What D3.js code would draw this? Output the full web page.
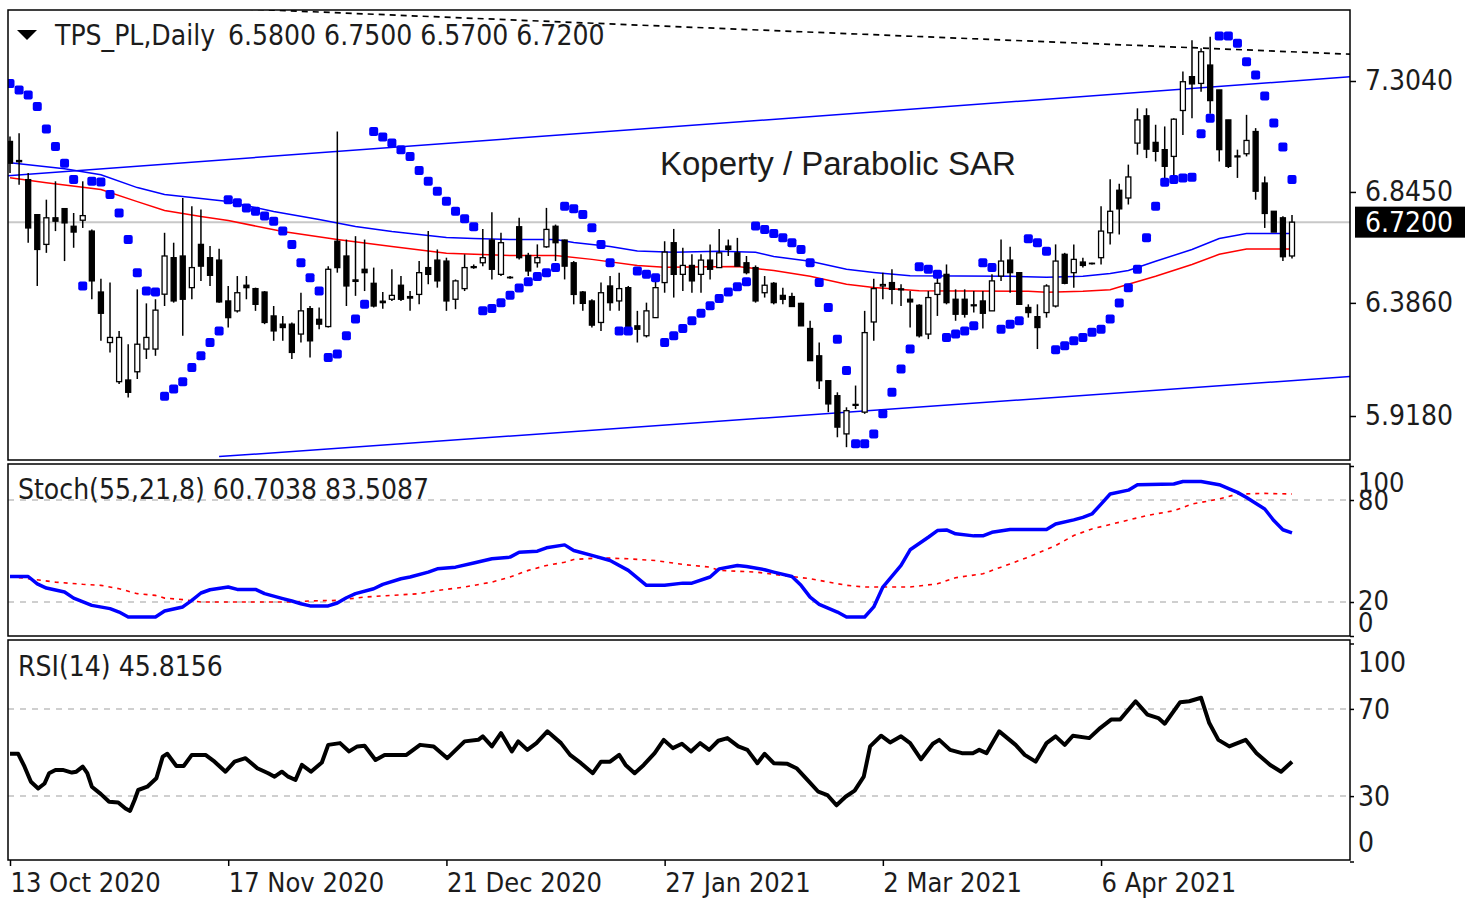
<!DOCTYPE html>
<html>
<head>
<meta charset="utf-8">
<script src="https://cdn.jsdelivr.net/npm/d3@7"></script>
<style>
  body { margin: 0; background: #fff; }
  svg text { font-family: "DejaVu Sans Condensed", "Liberation Sans", sans-serif; fill: #1c1c1c; }
</style>
</head>
<body>
<div id="chart"></div>
<script>
// TPS_PL daily candles, index 0 = 13 Oct 2020
const opens = [7.054,6.975,6.896,6.751,6.628,6.738,6.776,6.703,6.728,6.683, 6.431,6.222,6.060,6.067,6.101,6.195,6.195,6.422,6.573,6.580,
  6.449,6.628,6.573,6.563,6.394,6.353,6.459,6.445,6.431,6.332, 6.298,6.298,6.257,6.362,6.318,6.288,6.641,6.580,6.481,6.525,
  6.467,6.393,6.401,6.459,6.412,6.421,6.532,6.563,6.559,6.401, 6.445,6.536,6.552,6.646,6.504,6.492,6.701,6.582,6.552,6.618,
  6.703,6.646,6.552,6.431,6.394,6.305,6.456,6.394,6.449,6.291, 6.250,6.325,6.470,6.635,6.504,6.541,6.504,6.563,6.532,6.621,
  6.593,6.552,6.532,6.428,6.467,6.417,6.412,6.384,6.280,6.167, 6.064,6.002,5.844,5.962,5.934,6.307,6.456,6.470,6.444,6.401,
  6.376,6.257,6.421,6.504,6.401,6.401,6.374,6.394,6.353,6.497, 6.563,6.511,6.367,6.329,6.346,6.373,6.587,6.511,6.555,6.550,
  6.573,6.676,6.852,6.820,7.047,7.160,7.050,7.020,6.992,7.182, 7.322,7.294,7.370,7.267,7.143,6.994,7.003,7.095,6.882,6.765,
  6.738,6.580];
const highs = [7.074,7.088,6.923,6.751,6.813,6.889,6.776,6.758,6.889,6.690, 6.486,6.470,6.270,6.215,6.442,6.384,6.401,6.676,6.635,6.820,
  6.786,6.772,6.621,6.610,6.456,6.497,6.497,6.449,6.435,6.373, 6.332,6.305,6.428,6.373,6.367,6.538,7.095,6.648,6.662,6.648,
  6.532,6.431,6.525,6.497,6.435,6.559,6.683,6.607,6.573,6.483, 6.587,6.545,6.692,6.761,6.676,6.497,6.738,6.593,6.628,6.779,
  6.710,6.648,6.559,6.435,6.401,6.470,6.497,6.511,6.456,6.353, 6.387,6.477,6.641,6.692,6.614,6.587,6.587,6.628,6.692,6.648,
  6.655,6.580,6.541,6.497,6.472,6.449,6.428,6.387,6.312,6.222, 6.064,6.016,5.954,6.044,6.353,6.486,6.511,6.525,6.463,6.435,
  6.380,6.435,6.497,6.545,6.442,6.442,6.435,6.435,6.504,6.648, 6.618,6.514,6.380,6.380,6.463,6.628,6.593,6.628,6.573,6.552,
  6.786,6.898,6.879,6.958,7.191,7.191,7.123,7.116,7.150,7.343, 7.473,7.439,7.487,7.267,7.143,7.020,7.164,7.109,6.909,6.765,
  6.744,6.750];
const lows = [6.923,6.875,6.635,6.456,6.593,6.683,6.559,6.614,6.696,6.401, 6.229,6.181,6.050,5.995,6.071,6.154,6.167,6.373,6.387,6.250,
  6.401,6.477,6.456,6.387,6.284,6.346,6.401,6.353,6.298,6.229, 6.229,6.154,6.222,6.160,6.277,6.284,6.511,6.373,6.415,6.435,
  6.367,6.362,6.394,6.394,6.353,6.380,6.463,6.449,6.353,6.360, 6.435,6.527,6.538,6.483,6.497,6.486,6.566,6.497,6.532,6.614,
  6.559,6.483,6.380,6.353,6.284,6.270,6.353,6.353,6.284,6.222, 6.243,6.325,6.428,6.408,6.435,6.428,6.428,6.483,6.532,6.580,
  6.538,6.504,6.387,6.408,6.380,6.380,6.371,6.291,6.147,6.030, 5.934,5.830,5.789,5.947,5.927,6.229,6.401,6.380,6.373,6.284,
  6.243,6.236,6.332,6.380,6.312,6.325,6.346,6.280,6.353,6.477, 6.428,6.380,6.325,6.195,6.325,6.367,6.463,6.449,6.532,6.545,
  6.545,6.628,6.669,6.793,6.999,6.985,6.971,6.896,6.903,7.081, 7.150,7.260,7.168,6.971,6.944,6.903,6.992,6.813,6.696,6.679,
  6.559,6.570];
const closes = [6.964,6.970,6.696,6.607,6.738,6.724,6.717,6.679,6.747,6.477, 6.343,6.243,6.243,6.016,6.215,6.243,6.356,6.580,6.394,6.401,
  6.532,6.538,6.500,6.390,6.325,6.428,6.449,6.380,6.305,6.270, 6.284,6.181,6.353,6.229,6.298,6.525,6.532,6.456,6.475,6.511,
  6.373,6.387,6.417,6.401,6.406,6.511,6.504,6.477,6.394,6.477, 6.532,6.532,6.573,6.525,6.635,6.490,6.573,6.518,6.573,6.690,
  6.635,6.538,6.421,6.384,6.294,6.428,6.387,6.445,6.284,6.277, 6.353,6.449,6.596,6.504,6.541,6.477,6.563,6.525,6.593,6.607,
  6.538,6.511,6.394,6.459,6.387,6.401,6.371,6.291,6.147,6.064, 5.968,5.872,5.940,5.966,6.263,6.445,6.462,6.442,6.440,6.390,
  6.250,6.408,6.467,6.387,6.339,6.339,6.378,6.343,6.477,6.559, 6.511,6.380,6.346,6.284,6.456,6.559,6.467,6.566,6.541,6.548,
  6.683,6.765,6.775,6.907,7.143,7.022,7.013,6.951,7.146,7.301, 7.292,7.425,7.223,7.020,6.951,6.990,7.058,6.848,6.756,6.679,
  6.577,6.720];

// Parabolic SAR, one value per bar
const sar = [7.294,7.267,7.246,7.198,7.105,7.033,6.964,6.896,6.456,6.889, 6.886,6.834,6.758,6.648,6.511,6.435,6.431,6.000,6.030,6.060,
  6.119,6.167,6.222,6.270,6.813,6.800,6.779,6.765,6.745,6.724, 6.683,6.628,6.552,6.490,6.435,6.160,6.174,6.250,6.319,6.380,
  7.095,7.072,7.047,7.020,6.992,6.934,6.889,6.848,6.807,6.765, 6.734,6.701,6.353,6.363,6.387,6.418,6.448,6.473,6.495,6.511,
  6.532,6.786,6.775,6.752,6.697,6.628,6.552,6.270,6.270,6.518, 6.504,6.490,6.222,6.250,6.280,6.312,6.343,6.374,6.404,6.431,
  6.453,6.473,6.704,6.690,6.673,6.655,6.635,6.607,6.552,6.470, 6.367,6.236,6.106,5.803,5.803,5.844,5.927,6.016,6.112,6.195,
  6.536,6.525,6.504,6.243,6.257,6.270,6.291,6.552,6.532,6.277, 6.298,6.312,6.651,6.635,6.600,6.192,6.209,6.229,6.243,6.264,
  6.277,6.319,6.385,6.449,6.525,6.655,6.786,6.885,6.896,6.903, 6.906,7.086,7.150,7.490,7.490,7.460,7.384,7.329,7.242,7.130,
  7.031,6.896];

// moving averages [bar, price]
const maBlue = [[0,6.966],[6,6.941],[10,6.916],[14,6.863],[17,6.834],[24,6.805],[29,6.764],[34,6.731],[38,6.702],[42,6.681],
  [45,6.669],[48,6.657],[51,6.652],[55,6.648],[60,6.648],[62,6.636],[66,6.619],[69,6.601],[73,6.595],[78,6.600],[82,6.595],
  [84,6.578],[88,6.558],[92,6.525],[95,6.512],[99,6.498],[110,6.496],[114,6.492],[118,6.496],[121,6.508],[123,6.520],
  [126,6.558],[130,6.607],[133,6.652],[136,6.673],[141,6.673]];
const maRed = [[0,6.904],[4,6.883],[10,6.855],[14,6.805],[17,6.768],[21,6.743],[24,6.727],[30,6.681],[36,6.648],[42,6.619],
  [48,6.591],[55,6.582],[60,6.582],[64,6.566],[69,6.541],[72,6.533],[80,6.537],[84,6.520],[88,6.496],[92,6.463],[95,6.450],
  [100,6.436],[112,6.434],[114,6.430],[118,6.434],[121,6.440],[123,6.463],[126,6.496],[130,6.545],[133,6.587],[136,6.609],[141,6.609]];

// trend lines [bar, price]
const channelUpper = [[-1, 6.910], [148, 7.323]];
const channelLower = [[23, 5.750], [148, 6.083]];
const resistanceLine = [[20, 7.611], [148, 7.414]];
const lastPrice = 6.72;

// Stochastic (55,21,8) [bar, value]
const stochMain = [[0,35.0],[2,35.0],[3,30.7],[4,28.2],[6,25.9],[7,22.3],[9,18.0],[11,16.1],[12,14.1],[13,11.2],[16,11.2],
  [17,14.7],[19,17.1],[20,21.0],[21,25.3],[22,27.2],[24,28.8],[25,27.4],[27,27.4],[28,24.9],[30,22.0],[31,20.6],[32,19.0],
  [33,17.7],[35,17.7],[36,19.4],[37,22.5],[38,24.9],[40,27.8],[41,30.4],[43,33.7],[44,34.7],[46,37.6],[47,39.5],[49,40.5],
  [51,42.9],[53,45.4],[55,46.4],[56,49.3],[58,49.9],[59,51.9],[61,53.6],[62,50.3],[64,47.4],[66,44.4],[68,38.6],[70,29.8],
  [72,29.8],[74,31.1],[75,31.1],[77,34.7],[78,39.5],[80,41.5],[81,40.9],[83,39.0],[84,37.6],[86,35.0],[87,29.8],[88,22.9],
  [89,18.6],[91,14.1],[92,11.2],[94,11.2],[95,17.1],[96,28.8],[98,41.5],[99,50.7],[101,58.1],[102,62.0],[103,62.4],[104,60.1],
  [106,58.9],[107,58.9],[108,61.0],[110,62.6],[114,62.6],[115,65.9],[117,68.3],[118,69.8],[119,71.8],[120,77.6],[121,83.5],
  [123,85.8],[124,89.0],[128,89.4],[129,90.9],[131,90.9],[133,89.0],[135,84.5],[136,81.5],[138,74.7],[139,67.9],[140,62.5],[141,60.7]];
const stochSignal = [[0,35.0],[2,33.7],[5,31.7],[8,30.4],[10,29.8],[12,27.8],[14,24.9],[16,23.9],[17,22.3],[19,21.4],[21,20.0],
  [31,20.0],[33,20.6],[36,21.0],[39,22.9],[42,23.9],[45,24.9],[47,26.8],[50,28.8],[53,31.7],[55,34.7],[57,38.6],[59,41.5],
  [61,43.4],[62,45.0],[65,46.0],[68,45.4],[71,44.4],[74,42.1],[77,40.5],[78,38.6],[82,37.6],[85,35.6],[88,33.7],[92,29.8],
  [94,28.8],[99,28.8],[102,30.7],[104,34.3],[107,36.6],[109,40.5],[112,46.4],[115,53.2],[117,59.1],[119,63.0],[122,66.9],
  [125,70.8],[128,73.7],[130,77.6],[133,80.6],[135,83.5],[138,83.9],[141,83.5]];

// RSI(14) [bar, value]
const rsi = [[0,49.4],[0.9,49.4],[1.6,43.5],[2.3,36.6],[3.1,33.5],[3.8,35.8],[4.3,40.5],[5.0,42.0],[5.8,42.0],[6.8,40.8],
  [7.3,41.2],[8.0,43.5],[8.5,40.5],[9.0,34.3],[10.0,30.9],[10.9,27.4],[11.9,27.1],[12.7,24.3],[13.2,23.2],[13.7,28.2],
  [14.1,32.8],[15.1,34.3],[16.1,38.2],[16.8,48.1],[17.3,49.4],[18.3,43.8],[19.1,43.8],[20.0,48.9],[21.5,48.9],[22.5,45.8],
  [23.7,41.2],[24.7,45.8],[25.9,47.4],[27.2,42.8],[28.4,40.5],[29.1,38.9],[29.9,41.2],[30.6,38.9],[31.4,37.4],[32.1,44.3],
  [33.1,41.2],[34.3,45.4],[35.0,53.5],[36.3,54.3],[37.3,50.5],[38.2,52.8],[39.0,53.1],[40.2,46.6],[41.2,48.9],[43.6,48.9],
  [45.1,53.5],[46.6,52.8],[48.1,47.4],[50.0,55.1],[51.5,55.8],[52.0,57.4],[53.0,52.8],[54.0,58.9],[55.2,50.5],[55.9,55.1],
  [56.9,51.2],[57.9,54.3],[59.1,59.7],[60.6,54.3],[61.6,48.9],[62.8,45.1],[64.1,40.5],[65.0,45.8],[66.0,45.8],[67.0,48.9],
  [67.7,44.3],[68.7,40.5],[69.7,44.3],[70.9,49.7],[71.9,55.8],[72.9,52.0],[73.9,54.0],[74.9,50.5],[75.9,54.3],[76.9,51.2],
  [77.9,55.4],[78.9,56.6],[80.1,52.8],[81.1,51.2],[82.2,45.1],[83.0,49.4],[84.0,45.1],[85.5,44.8],[86.5,42.8],[87.7,37.4],
  [88.9,32.0],[89.9,30.5],[90.9,25.8],[91.9,29.7],[92.9,32.5],[93.9,38.9],[94.6,52.8],[95.8,57.7],[96.8,54.6],[98.0,57.4],
  [99.0,54.3],[100.2,46.9],[101.5,54.0],[102.2,55.8],[103.4,51.2],[104.7,49.7],[105.9,49.7],[106.6,51.2],[107.4,49.7],
  [108.8,59.7],[110.6,53.5],[111.6,48.9],[112.8,45.8],[114.0,54.3],[115.0,57.4],[116.0,53.5],[116.9,57.7],[118.7,56.6],
  [119.9,61.2],[121.1,65.1],[122.1,65.1],[123.8,73.5],[125.1,67.4],[126.3,65.8],[127.0,63.2],[128.7,73.1],[129.7,73.5],
  [131.0,75.1],[131.9,63.5],[132.9,55.8],[134.1,52.8],[135.9,55.8],[137.1,49.7],[138.6,44.3],[139.8,41.2],[141,45.8]];

const priceTicks = [7.304, 6.845, 6.386, 5.918];
const stochLevels = [80, 20];
const stochTicks = [100, 80, 20, 0];
const rsiLevels = [70, 30];
const rsiTicks = [100, 70, 30, 0];
const dateBars = [0, 24, 48, 72, 96, 120];
const dateLabels = ["13 Oct 2020", "17 Nov 2020", "21 Dec 2020", "27 Jan 2021", "2 Mar 2021", "6 Apr 2021"];

function drawChart() {
  const fullWidth = 1483, fullHeight = 900;
  const left = 8, right = 1350;
  const main = { top: 10, bottom: 460 },
    stochPane = { top: 464, bottom: 636 },
    rsiPane = { top: 640, bottom: 860 };

  const svg = d3.select("#chart").append("svg")
    .attr("width", fullWidth)
    .attr("height", fullHeight);

  // Escalas
  const x = d3.scaleLinear().domain([0, 141]).range([10, 1292]);
  const y = d3.scaleLinear().domain([5.918, 7.304]).range([416, 81]);
  const yStoch = d3.scaleLinear().domain([0, 100]).range([636, 466]);
  const yRsi = d3.scaleLinear().domain([0, 100]).range([861.5, 643.5]);

  const defs = svg.append("defs");
  [["clipMain", main], ["clipStoch", stochPane], ["clipRsi", rsiPane]].forEach(([id, p]) => {
    defs.append("clipPath").attr("id", id).append("rect")
      .attr("x", left).attr("y", p.top).attr("width", right - left).attr("height", p.bottom - p.top);
  });

  const priceLine = d3.line().x((d) => x(d[0])).y((d) => y(d[1]));

  // Panel principal
  const g = svg.append("g").attr("clip-path", "url(#clipMain)");

  g.append("line")
    .attr("x1", left).attr("x2", right)
    .attr("y1", y(lastPrice)).attr("y2", y(lastPrice))
    .attr("stroke", "#c8c8c8").attr("stroke-width", 2);

  [channelUpper, channelLower].forEach((pts) => {
    g.append("path").attr("d", priceLine(pts))
      .attr("fill", "none").attr("stroke", "#0000ff").attr("stroke-width", 1.5);
  });

  g.append("path").attr("d", priceLine(resistanceLine))
    .attr("fill", "none").attr("stroke", "#000").attr("stroke-width", 1.7)
    .attr("stroke-dasharray", "6,5");

  g.append("path").attr("d", priceLine(maBlue))
    .attr("fill", "none").attr("stroke", "#0000ff").attr("stroke-width", 1.5);
  g.append("path").attr("d", priceLine(maRed))
    .attr("fill", "none").attr("stroke", "#ff0000").attr("stroke-width", 1.5);

  const candles = opens.map((o, i) => ({ i, o, h: highs[i], l: lows[i], c: closes[i] }));

  const candleG = g.append("g")
    .selectAll("g")
    .data(candles)
    .join("g");

  candleG.append("line")
    .attr("x1", (d) => x(d.i)).attr("x2", (d) => x(d.i))
    .attr("y1", (d) => y(d.h)).attr("y2", (d) => y(d.l))
    .attr("stroke", "#000").attr("stroke-width", 1.5);

  candleG.append("rect")
    .attr("x", (d) => x(d.i) - 2.5)
    .attr("width", 5)
    .attr("y", (d) => y(Math.max(d.o, d.c)))
    .attr("height", (d) => Math.max(0.5, Math.abs(y(d.o) - y(d.c))))
    .attr("fill", (d) => (d.c < d.o ? "#000" : "#fff"))
    .attr("stroke", "#000")
    .attr("stroke-width", 1.3);

  g.append("g")
    .selectAll("rect")
    .data(sar)
    .join("rect")
    .attr("x", (d, i) => x(i) - 4.5)
    .attr("y", (d) => y(d) - 4.5)
    .attr("width", 9)
    .attr("height", 9)
    .attr("rx", 2)
    .attr("fill", "#0000ff");

  svg.append("text")
    .attr("x", 660).attr("y", 175)
    .style("font-family", "'Liberation Sans', Arial, sans-serif")
    .style("font-size", "33px")
    .text("Koperty / Parabolic SAR");

  // Estocástico
  const gs = svg.append("g").attr("clip-path", "url(#clipStoch)");
  stochLevels.forEach((lv) => {
    gs.append("line").attr("x1", left).attr("x2", right)
      .attr("y1", yStoch(lv)).attr("y2", yStoch(lv))
      .attr("stroke", "#c0c0c0").attr("stroke-width", 1.5).attr("stroke-dasharray", "6,6");
  });
  const stochLine = d3.line().x((d) => x(d[0])).y((d) => yStoch(d[1]));
  gs.append("path").attr("d", stochLine(stochSignal))
    .attr("fill", "none").attr("stroke", "#ff0000").attr("stroke-width", 1.6)
    .attr("stroke-dasharray", "4,5");
  gs.append("path").attr("d", stochLine(stochMain))
    .attr("fill", "none").attr("stroke", "#0000ff").attr("stroke-width", 3.5)
    .attr("stroke-linejoin", "round");

  // RSI
  const gr = svg.append("g").attr("clip-path", "url(#clipRsi)");
  rsiLevels.forEach((lv) => {
    gr.append("line").attr("x1", left).attr("x2", right)
      .attr("y1", yRsi(lv)).attr("y2", yRsi(lv))
      .attr("stroke", "#c0c0c0").attr("stroke-width", 1.5).attr("stroke-dasharray", "6,6");
  });
  gr.append("path")
    .attr("d", d3.line().x((d) => x(d[0])).y((d) => yRsi(d[1]))(rsi))
    .attr("fill", "none").attr("stroke", "#000").attr("stroke-width", 4)
    .attr("stroke-linejoin", "round");

  // Marcos
  [main, stochPane, rsiPane].forEach((p) => {
    svg.append("rect")
      .attr("x", left).attr("y", p.top)
      .attr("width", right - left).attr("height", p.bottom - p.top)
      .attr("fill", "none").attr("stroke", "#000").attr("stroke-width", 1.5);
  });

  // Ejes
  const priceAxis = svg.append("g")
    .attr("transform", `translate(${right},0)`)
    .call(d3.axisRight(y).tickValues(priceTicks).tickFormat(d3.format(".4f")).tickSize(6).tickPadding(9));
  priceAxis.select(".domain").remove();
  priceAxis.selectAll("text").style("font-size", "28px").attr("font-family", null);

  svg.append("rect")
    .attr("x", 1355).attr("y", y(lastPrice) - 15.5)
    .attr("width", 110).attr("height", 31)
    .attr("fill", "#000");
  svg.append("text")
    .attr("x", 1365).attr("y", y(lastPrice))
    .attr("dy", "0.36em")
    .style("font-size", "28px")
    .style("fill", "#fff")
    .text(d3.format(".4f")(lastPrice));

  // las etiquetas 100/80 y 20/0 se montan como en el original
  const stochOffsets = { 100: 17, 80: 1, 20: -1, 0: -13 };
  const stochAxis = svg.append("g")
    .attr("transform", `translate(${right},0)`)
    .call(d3.axisRight(yStoch).tickValues(stochTicks).tickSize(4).tickPadding(4));
  stochAxis.select(".domain").remove();
  stochAxis.selectAll("text").style("font-size", "27px")
    .attr("y", (d) => stochOffsets[d]);

  const rsiOffsets = { 100: 19, 70: 1, 30: 0, 0: -19 };
  const rsiAxis = svg.append("g")
    .attr("transform", `translate(${right},0)`)
    .call(d3.axisRight(yRsi).tickValues(rsiTicks).tickSize(4).tickPadding(4));
  rsiAxis.select(".domain").remove();
  rsiAxis.selectAll("text").style("font-size", "28px")
    .attr("y", (d) => rsiOffsets[d]);

  const dateAxis = svg.append("g")
    .attr("transform", `translate(0,${rsiPane.bottom})`)
    .call(d3.axisBottom(x).tickValues(dateBars).tickSize(6).tickFormat((d, i) => dateLabels[i]));
  dateAxis.select(".domain").remove();
  dateAxis.selectAll("text")
    .style("font-size", "27px")
    .attr("text-anchor", "start")
    .attr("x", 0)
    .attr("y", 13);

  // Títulos
  svg.append("path")
    .attr("d", d3.line()([[17, 30], [37, 30], [27, 40]]) + "Z")
    .attr("fill", "#000");
  svg.append("text").attr("x", 55).attr("y", 45).style("font-size", "28px").text("TPS_PL,Daily");
  svg.append("text").attr("x", 228).attr("y", 45).style("font-size", "28px")
    .text([opens[141], highs[141], lows[141], closes[141]].map(d3.format(".4f")).join(" "));
  svg.append("text").attr("x", 18).attr("y", 499).style("font-size", "28px")
    .text("Stoch(55,21,8) 60.7038 83.5087");
  svg.append("text").attr("x", 18).attr("y", 676).style("font-size", "28px")
    .text("RSI(14) 45.8156");

  svg.selectAll(".tick text").style("fill", "#1c1c1c");
  svg.selectAll(".tick line").attr("stroke", "#000").attr("stroke-width", 1.5);
}

drawChart();
</script>
</body>
</html>
